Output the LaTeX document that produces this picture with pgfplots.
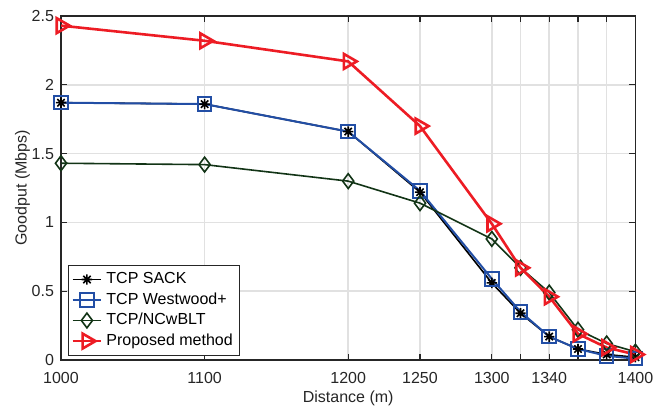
\documentclass[border=0pt]{standalone}
\usepackage{fontspec}
\setmainfont{Liberation Sans}
\usepackage{pgfplots}
\pgfplotsset{compat=1.18}
\definecolor{myred}{RGB}{237,28,36}
\definecolor{myblue}{RGB}{34,78,165}
\definecolor{mygreen}{RGB}{18,52,22}
\definecolor{axgray}{RGB}{38,38,38}
\definecolor{gridgray}{RGB}{225,225,225}
\pgfdeclareplotmark{mstar}{%
 \pgfpathmoveto{\pgfqpoint{-\pgfplotmarksize}{0pt}}\pgfpathlineto{\pgfqpoint{\pgfplotmarksize}{0pt}}%
 \pgfpathmoveto{\pgfqpoint{0pt}{-\pgfplotmarksize}}\pgfpathlineto{\pgfqpoint{0pt}{\pgfplotmarksize}}%
 \pgfpathmoveto{\pgfqpoint{-0.7071\pgfplotmarksize}{-0.7071\pgfplotmarksize}}\pgfpathlineto{\pgfqpoint{0.7071\pgfplotmarksize}{0.7071\pgfplotmarksize}}%
 \pgfpathmoveto{\pgfqpoint{-0.7071\pgfplotmarksize}{0.7071\pgfplotmarksize}}\pgfpathlineto{\pgfqpoint{0.7071\pgfplotmarksize}{-0.7071\pgfplotmarksize}}%
 \pgfusepathqstroke}
\newcommand{\f}{\fontsize{8}{9.6}\selectfont}
\begin{document}
\begin{tikzpicture}
\begin{axis}[
  width=287.2pt, height=172pt, scale only axis,
  xmin=1000, xmax=1400, ymin=0, ymax=2.5,
  xtick={1000,1100,1200,1250,1300,1340,1400},
  xticklabels={1000,1100,1200,1250,1300,1340,1400},
  minor xtick={1320,1360,1380},
  ytick={0,0.5,1,1.5,2,2.5},
  yticklabels={0,0.5,1,1.5,2,2.5},
  tick align=inside, major tick length=3pt, minor tick length=3pt,
  xtick pos=both, ytick pos=both,
  grid=both, grid style={gridgray, line width=0.75pt},
  minor grid style={gridgray, line width=0.75pt},
  axis line style={axgray, line width=0.6pt},
  tick style={axgray, line width=0.6pt},
  minor tick style={axgray, line width=0.6pt},
  ticklabel style={font=\f, text=axgray},
  xticklabel style={yshift=-2.5pt},
  label style={font=\f, text=axgray},
  xlabel={Distance (m)}, ylabel={Goodput (Mbps)},
  xlabel style={yshift=3pt},
  ylabel shift=-6pt,
  legend style={at={(0.012,0.012)}, anchor=south west, draw=axgray, line width=0.5pt,
    font=\f, inner sep=1.5pt, row sep=-1pt, cells={anchor=west}},
  legend image code/.code={\draw[mark repeat=2,mark phase=2] plot coordinates {(0cm,0cm) (0.25cm,0cm) (0.5cm,0cm)};},
]
\addplot[black, line width=0.8pt, mark=mstar, mark size=2.6pt] coordinates {
(1000,1.87)(1100,1.86)(1200,1.66)(1250,1.22)(1300,0.56)(1320,0.34)(1340,0.17)(1360,0.08)(1380,0.04)(1400,0.02)};
\addlegendentry{TCP SACK}
\addplot[myblue, line width=1pt, mark=square, mark size=3.4pt, mark options={solid}] coordinates {
(1000,1.87)(1100,1.86)(1200,1.66)(1250,1.23)(1300,0.59)(1320,0.35)(1340,0.17)(1360,0.08)(1380,0.03)(1400,0.01)};
\addlegendentry{TCP Westwood+}
\addplot[mygreen, line width=0.8pt, mark=diamond, mark size=3.7pt] coordinates {
(1000,1.43)(1100,1.42)(1200,1.30)(1250,1.14)(1300,0.88)(1320,0.67)(1340,0.49)(1360,0.22)(1380,0.12)(1400,0.06)};
\addlegendentry{TCP/NCwBLT}
\addplot[myred, line width=1.3pt, mark=triangle, mark size=4.3pt, mark options={rotate=-90}] coordinates {
(1000,2.43)(1100,2.32)(1200,2.17)(1250,1.70)(1300,0.99)(1320,0.67)(1340,0.46)(1360,0.19)(1380,0.09)(1400,0.04)};
\addlegendentry{Proposed method}
\end{axis}
\pgfresetboundingbox
\path[use as bounding box] ([shift={(-30.5pt,-23pt)}]current axis.south west) rectangle ([shift={(12.8pt,8pt)}]current axis.north east);
\end{tikzpicture}
\end{document}
